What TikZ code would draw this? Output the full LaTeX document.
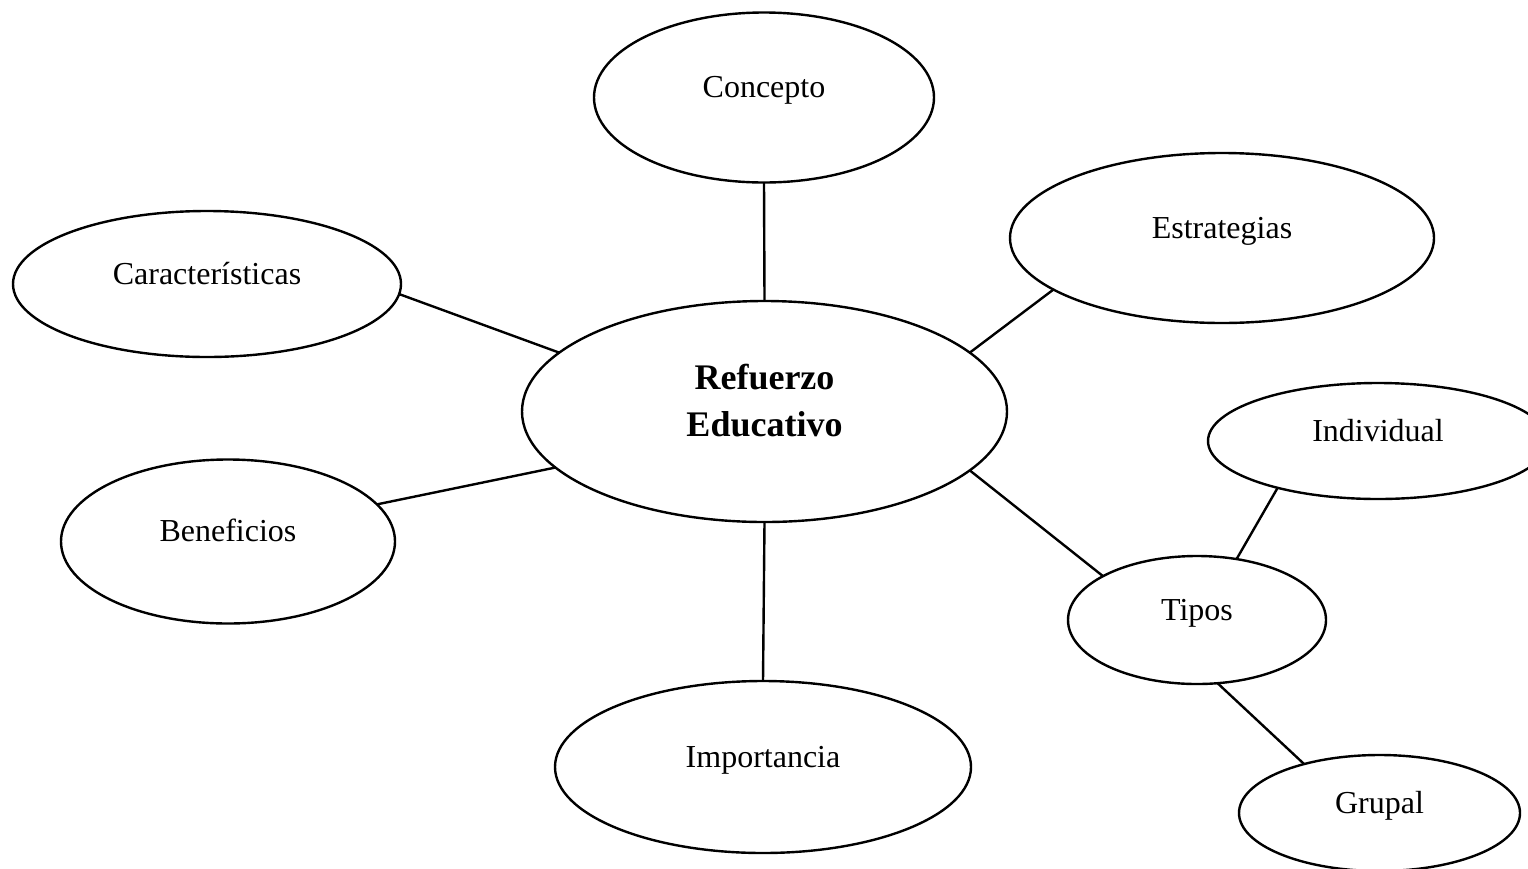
\documentclass[tikz,border=0pt]{standalone}
\usepackage{fontspec}
\setmainfont{Liberation Serif}
\usetikzlibrary{shapes.geometric}
\begin{document}
\begin{tikzpicture}[x=1pt,y=-1pt,
  bubble/.style={draw=black, line width=2.4pt, ellipse, inner sep=0pt, outer sep=0pt,
    font=\fontsize{32}{38}\selectfont, text height=22pt, text depth=22pt},
  mainbubble/.style={draw=black, line width=2.4pt, ellipse, inner sep=0pt, outer sep=0pt,
    font=\bfseries\fontsize{36}{47}\selectfont},
  link/.style={draw=black, line width=2.4pt}]
\useasboundingbox (0,0) rectangle (1528,868);
\node[mainbubble, minimum width=485pt, minimum height=221pt] (ref) at (764.5,411.5)
  {\raisebox{0pt}[60pt][11pt]{\vbox{\baselineskip=47pt\halign{\hfil#\hfil\cr Refuerzo\cr Educativo\cr}}}};
\node[bubble, minimum width=340pt, minimum height=170pt] (con) at (764,97.5) {Concepto};
\node[bubble, minimum width=424pt, minimum height=170pt] (est) at (1222,238) {Estrategias};
\node[bubble, minimum width=388pt, minimum height=146pt] (car) at (207,284) {Características};
\node[bubble, minimum width=334pt, minimum height=164pt] (ben) at (228,541.5) {Beneficios};
\node[bubble, minimum width=416pt, minimum height=172pt] (imp) at (763,767) {Importancia};
\node[bubble, minimum width=340pt, minimum height=116pt] (ind) at (1378,441) {Individual};
\node[bubble, minimum width=258pt, minimum height=128pt] (tip) at (1197,620) {Tipos};
\node[bubble, minimum width=281pt, minimum height=116pt] (gru) at (1379.5,813) {Grupal};
\draw[link] (con.south) -- (ref.north);
\draw[link] (ref.south) -- (imp.north);
\draw[link] (car.-3) -- (ref.164);
\draw[link] (ben.14) -- (ref.195);
\draw[link] (est.197.6) -- (ref.16);
\draw[link] (ref.-16.7) -- (tip.155.6);
\draw[link] (tip.57.8) -- (ind.205.6);
\draw[link] (tip.-72.1) -- (gru.147.2);
\end{tikzpicture}
\end{document}
